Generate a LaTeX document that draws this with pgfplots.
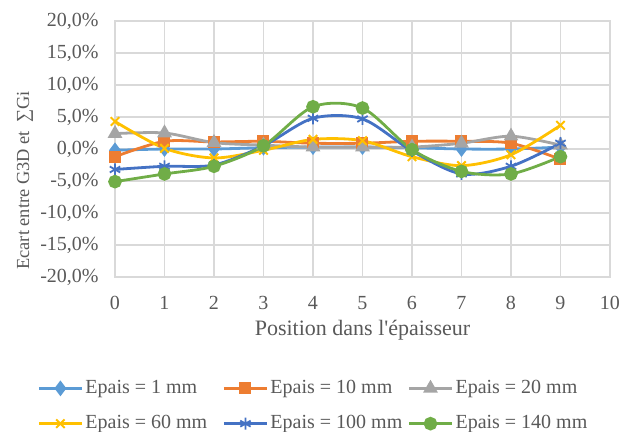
\documentclass[border=0pt]{standalone}
\usepackage{fontspec}
\setmainfont{Liberation Serif}
\usepackage{pgfplots}
\pgfplotsset{compat=1.18}
\definecolor{c1}{HTML}{5B9BD5}
\definecolor{c2}{HTML}{ED7D31}
\definecolor{c3}{HTML}{A5A5A5}
\definecolor{c4}{HTML}{FFC000}
\definecolor{c5}{HTML}{4472C4}
\definecolor{c6}{HTML}{70AD47}
\definecolor{txt}{HTML}{595959}
\definecolor{grd}{HTML}{D9D9D9}
\begin{document}
\begin{tikzpicture}
\begin{axis}[
  at={(0,0)}, anchor=south west,
  scale only axis, width=247.5pt, height=128pt,
  xmin=0, xmax=10, ymin=-20, ymax=20,
  xtick={0,1,...,10}, ytick={-20,-15,...,20},
  grid=major, major grid style={grd, line width=0.6pt},
  axis line style={grd, line width=0.6pt},
  tick style={draw=none},
  /pgf/number format/assume math mode=true,
  ticklabel style={font=\fontsize{10}{11}\selectfont, text=txt, inner sep=0pt},
  xticklabel style={anchor=center, yshift=-13pt},
  yticklabel style={anchor=east, xshift=-8pt},
  yticklabel={\pgfmathprintnumber[fixed,fixed zerofill,precision=1,use comma]{\tick}\%},
  xticklabel={\pgfmathprintnumber{\tick}},
  xlabel={Position dans l\textquotesingle épaisseur},
  ylabel={Ecart entre G3D et\hspace{0.45em}∑Gi},
  xlabel style={font=\fontsize{11}{12}\selectfont, text=txt, at={(0.5,-0.207)}, anchor=center},
  ylabel style={font=\fontsize{9.2}{10}\selectfont, text=txt, at={(-0.182,0.027)}, anchor=west, inner sep=0pt},
  clip=false,
  every axis plot/.append style={smooth, tension=0.5, line width=1.4pt},
  legend columns=3,
  legend style={at={(-0.1576,-0.386)}, anchor=north west, draw=none, fill=none,
    font=\fontsize{10}{11}\selectfont, text=txt, inner sep=0pt,
    nodes={inner xsep=1pt},
    row sep=5.5pt,
    /tikz/every even column/.append style={column sep=0pt}},
  legend cell align=left,
  legend image code/.code={\draw[mark repeat=2,mark phase=2] plot[sharp plot] coordinates {(0cm,0cm) (0.38cm,0cm) (0.76cm,0cm)};},
]
\addplot[c1, mark=diamond*, mark size=2.8pt, mark options={fill=c1}] coordinates {
(0,-0.2) (1,0.0) (2,0.0) (3,0.2) (4,0.3) (5,0.3) (6,0.2) (7,0.0) (8,0.0) (9,0.3)};
\addlegendentry{\makebox[67.5pt][l]{Epais = 1 mm}}
\addplot[c2, mark=square*, mark size=2.3pt, mark options={fill=c2}] coordinates {
(0,-1.2) (1,1.2) (2,1.1) (3,1.2) (4,0.9) (5,0.9) (6,1.2) (7,1.2) (8,0.9) (9,-1.6)};
\addlegendentry{\makebox[67.5pt][l]{Epais = 10 mm}}
\addplot[c3, mark=triangle*, mark size=2.9pt, mark options={fill=c3}] coordinates {
(0,2.4) (1,2.5) (2,1.0) (3,0.6) (4,0.3) (5,0.3) (6,0.3) (7,0.9) (8,2.0) (9,0.6)};
\addlegendentry{Epais = 20 mm}
\addplot[c4, mark=x, mark size=3pt, mark options={line width=1pt}] coordinates {
(0,4.3) (1,0.1) (2,-1.4) (3,-0.2) (4,1.5) (5,1.3) (6,-1.2) (7,-2.6) (8,-0.9) (9,3.7)};
\addlegendentry{\makebox[67.5pt][l]{Epais = 60 mm}}
\addplot[c5, mark=asterisk, mark size=3pt, mark options={line width=0.9pt}] coordinates {
(0,-3.2) (1,-2.7) (2,-2.5) (3,0.5) (4,4.8) (5,4.7) (6,-0.3) (7,-3.9) (8,-2.7) (9,0.9)};
\addlegendentry{\makebox[67.5pt][l]{Epais = 100 mm}}
\addplot[c6, mark=*, mark size=2.7pt, mark options={fill=c6}] coordinates {
(0,-5.1) (1,-3.9) (2,-2.7) (3,0.5) (4,6.6) (5,6.4) (6,-0.1) (7,-3.5) (8,-3.9) (9,-1.2)};
\addlegendentry{Epais = 140 mm}
\end{axis}
\pgfresetboundingbox
\useasboundingbox (-57.5pt,-77.5pt) rectangle (253.5pt,138.5pt);
\end{tikzpicture}
\end{document}
